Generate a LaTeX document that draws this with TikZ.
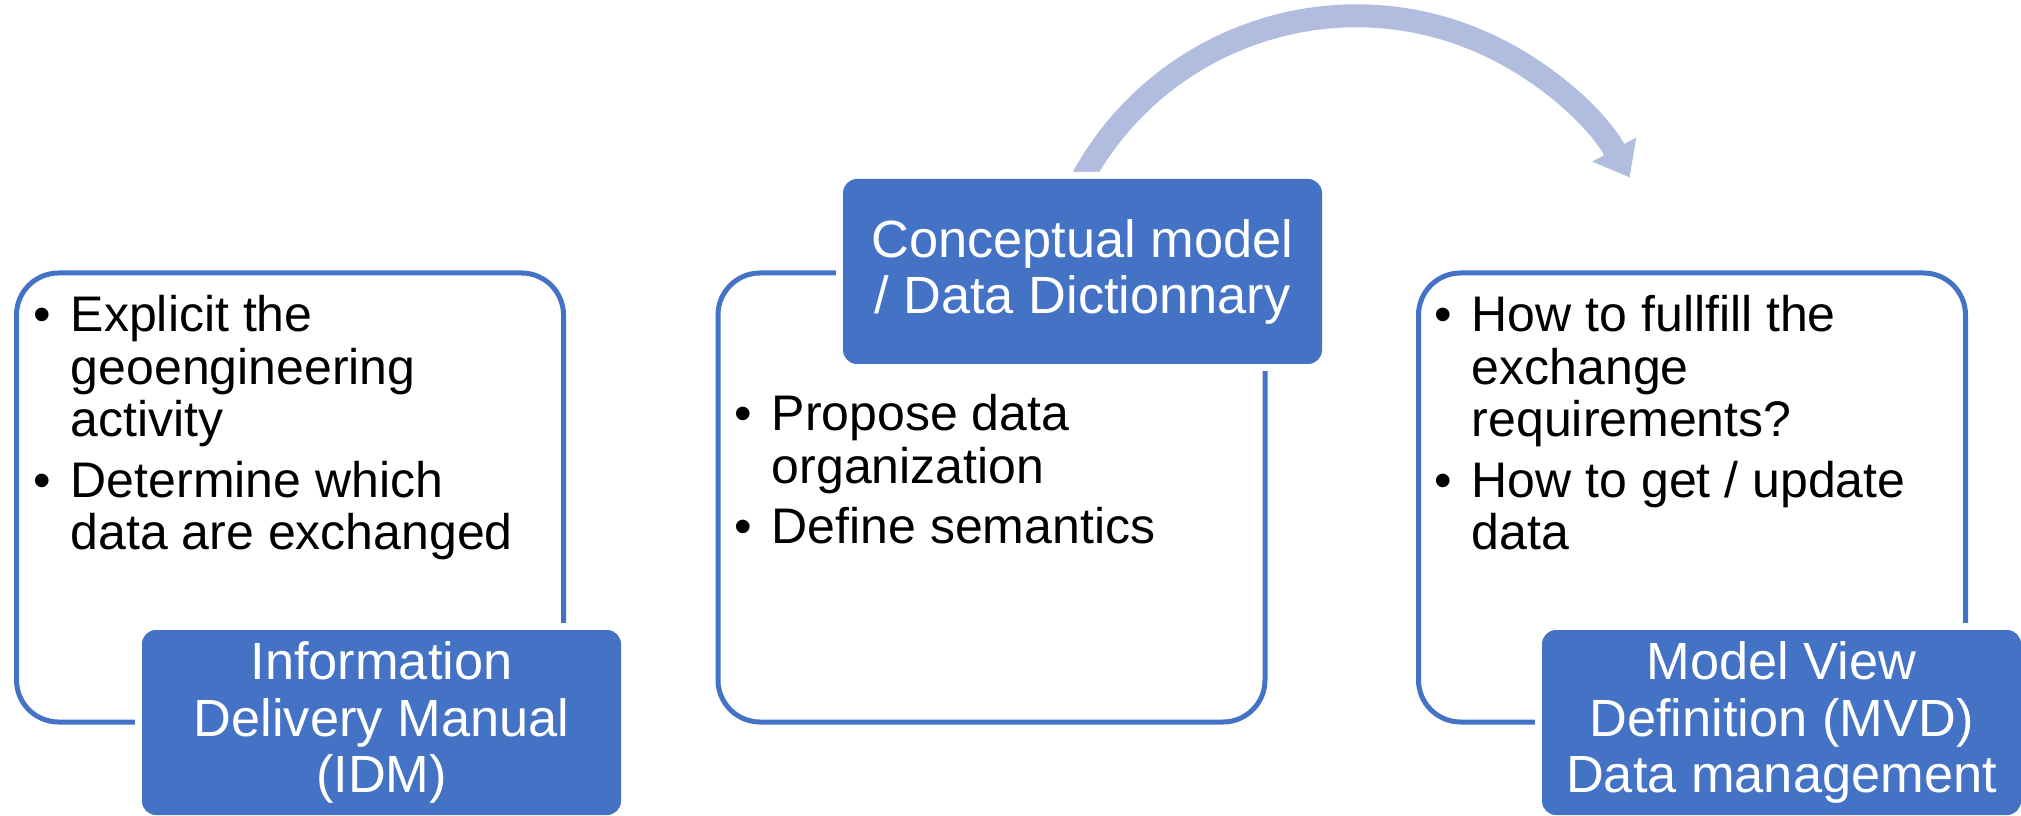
\documentclass[tikz,border=0pt]{standalone}
\usepackage{fontspec}
\setmainfont{Liberation Sans}
\usetikzlibrary{arrows.meta}
\definecolor{smblue}{HTML}{4472C4}
\definecolor{smarrow}{RGB}{176,189,223}
\newcommand{\bul}{\textbullet}

\begin{document}
\begin{tikzpicture}[
	frame/.style={draw=smblue, line width=0.1cm, rounded corners=0.84cm, minimum width=10.94cm, minimum height=8.98cm, inner sep=0pt},
	title/.style={fill=smblue, text=white, rounded corners=0.28cm, minimum width=9.58cm, minimum height=3.70cm, inner sep=0pt, align=center, font=\fontsize{29.8}{31.9}\selectfont, preaction={draw=white, line width=0.28cm}},
	points/.style={anchor=base west, inner sep=0pt, font=\fontsize{28.45}{29.87}\selectfont},
	bigarrow/.style={draw=smarrow, line width=0.46cm, -{Triangle[length=0.64cm, width=0.96cm]}},
	]
	\useasboundingbox (0,0) rectangle (40.42,-16.32);

	\draw
	node[frame] at (5.80,-9.95) (idmframe) {}
	node[frame] at (19.83,-9.95) (cmframe) {}
	node[frame] at (33.84,-9.95) (mvdframe) {};

	\coordinate (arcstart) at (21.47,-3.92);
	\draw[bigarrow] (arcstart) arc[start angle=155, end angle=28.8, radius=6.24];

	\draw
	node[title] at (7.63,-14.45) (idm) {Information\\Delivery Manual\\(IDM)}
	node[title] at (21.65,-5.43) (cm) {Conceptual model\\/ Data Dictionnary}
	node[title] at (35.63,-14.45) (mvd) {Model View\\Definition (MVD)\\Data management}

	node[points] at (0.67,-6.64) (idmtext) {\begin{tabular}[t]{@{}p{0.74cm}@{}l@{}}
		\bul & Explicit the\\ & geoengineering\\ & activity\\[4.55pt]
		\bul & Determine which\\ & data are exchanged
	\end{tabular}}
	node[points] at (14.69,-8.62) (cmtext) {\begin{tabular}[t]{@{}p{0.74cm}@{}l@{}}
		\bul & Propose data\\ & organization\\[4.55pt]
		\bul & Define semantics
	\end{tabular}}
	node[points] at (28.69,-6.64) (mvdtext) {\begin{tabular}[t]{@{}p{0.74cm}@{}l@{}}
		\bul & How to fullfill the\\ & exchange\\ & requirements?\\[4.55pt]
		\bul & How to get / update\\ & data
	\end{tabular}};
\end{tikzpicture}
\end{document}
